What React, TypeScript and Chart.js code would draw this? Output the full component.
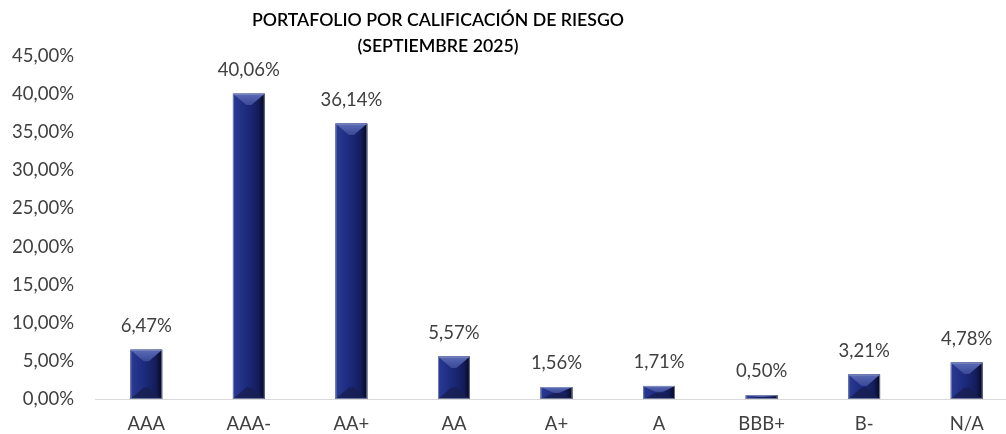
import React, { useEffect, useRef } from "react";
import { Chart, registerables } from "chart.js";

Chart.register(...registerables);

const categories = ["AAA", "AAA-", "AA+", "AA", "A+", "A", "BBB+", "B-", "N/A"];
const values = [6.47, 40.06, 36.14, 5.57, 1.56, 1.71, 0.5, 3.21, 4.78];
const titleLines = ["PORTAFOLIO POR CALIFICACIÓN DE RIESGO", "(SEPTIEMBRE 2025)"];
const yMax = 45;
const yStep = 5;

const FONT = "Lato, 'Open Sans', sans-serif";
const TEXT = "#404040";
const FS = 18.5;

const fmt = (v: number) => v.toFixed(2).replace(".", ",") + "%";

export default function App() {
  const ref = useRef<HTMLCanvasElement | null>(null);
  useEffect(() => {
    const canvas = ref.current!;
    const ctx = canvas.getContext("2d")!;

    const bevelPlugin = {
      id: "bevel",
      afterDatasetsDraw(chart: any) {
        const c = chart.ctx;
        const meta = chart.getDatasetMeta(0);
        meta.data.forEach((bar: any) => {
          const { x, y, base, width } = bar.getProps(["x", "y", "base", "width"], true);
          if (![x, y, base, width].every((n) => Number.isFinite(n))) return;
          const l = x - width / 2;
          const r = x + width / 2;
          const h = base - y;
          const d = Math.min(width * 0.36, h / 2);
          c.save();
          const g = c.createLinearGradient(l, 0, r, 0);
          g.addColorStop(0, "#2a3a96");
          g.addColorStop(0.45, "#1c2a7c");
          g.addColorStop(0.8, "#141d5a");
          g.addColorStop(1, "#05081c");
          c.fillStyle = g;
          c.fillRect(l, y, width, h);
          const tg = c.createLinearGradient(0, y, 0, y + d);
          tg.addColorStop(0, "#5c6cb8");
          tg.addColorStop(1, "#3a4896");
          c.fillStyle = tg;
          c.beginPath();
          c.moveTo(l, y);
          c.lineTo(r, y);
          c.lineTo(x + width * 0.08, y + d);
          c.lineTo(x - width * 0.08, y + d);
          c.closePath();
          c.fill();
          c.fillStyle = "rgba(24,30,80,0.8)";
          c.beginPath();
          c.moveTo(l, base);
          c.lineTo(r, base);
          c.lineTo(x + width * 0.08, base - d);
          c.lineTo(x - width * 0.08, base - d);
          c.closePath();
          c.fill();
          c.strokeStyle = "rgba(150,160,190,0.7)";
          c.lineWidth = 1;
          c.strokeRect(l + 0.5, y + 0.5, width - 1, h - 1);
          c.restore();
        });
      },
    };

    const labelPlugin = {
      id: "labels",
      afterDraw(chart: any) {
        const c = chart.ctx;
        const meta = chart.getDatasetMeta(0);
        c.save();
        c.font = `${FS}px ${FONT}`;
        c.fillStyle = TEXT;
        c.textAlign = "center";
        c.textBaseline = "middle";
        meta.data.forEach((bar: any, i: number) => {
          c.fillText(fmt(values[i]), bar.x, bar.y - 24);
        });
        c.font = `600 17.7px ${FONT}`;
        c.fillStyle = "#000000";
        c.fillText(titleLines[0], 438, 20);
        c.fillText(titleLines[1], 438, 46);
        c.restore();
      },
    };

    const chart = new Chart(ctx, {
      type: "bar",
      data: {
        labels: categories,
        datasets: [
          {
            data: values,
            backgroundColor: "#1c2a7c",
            borderWidth: 0,
            barPercentage: 0.31,
            categoryPercentage: 1,
          },
        ],
      },
      options: {
        animation: false,
        responsive: false,
        maintainAspectRatio: false,
        layout: { padding: { top: 56, right: 3, left: 0, bottom: 0 } },
        plugins: { legend: { display: false }, tooltip: { enabled: false }, title: { display: false } },
        scales: {
          x: {
            grid: { display: false, drawTicks: false },
            border: { display: true, color: "#d9d9d9", width: 1 },
            ticks: { color: TEXT, font: { family: FONT, size: FS }, padding: 14 },
            afterFit(scale: any) {
              scale.height = 35;
            },
          },
          y: {
            min: 0,
            max: yMax,
            grid: { display: false, drawTicks: false },
            border: { display: false },
            ticks: {
              stepSize: yStep,
              color: TEXT,
              font: { family: FONT, size: FS },
              padding: 21,
              callback: (v: any) => fmt(Number(v)),
            },
            afterFit(scale: any) {
              scale.width = 95;
            },
          },
        },
      },
      plugins: [bevelPlugin, labelPlugin],
    });
    return () => chart.destroy();
  }, []);

  return (
    <div style={{ position: "fixed", left: 0, top: 0, width: 1006, height: 434, overflow: "hidden", background: "#fff" }}>
      <canvas ref={ref} width={1021} height={434} style={{ display: "block", width: 1021, height: 434 }} />
    </div>
  );
}
